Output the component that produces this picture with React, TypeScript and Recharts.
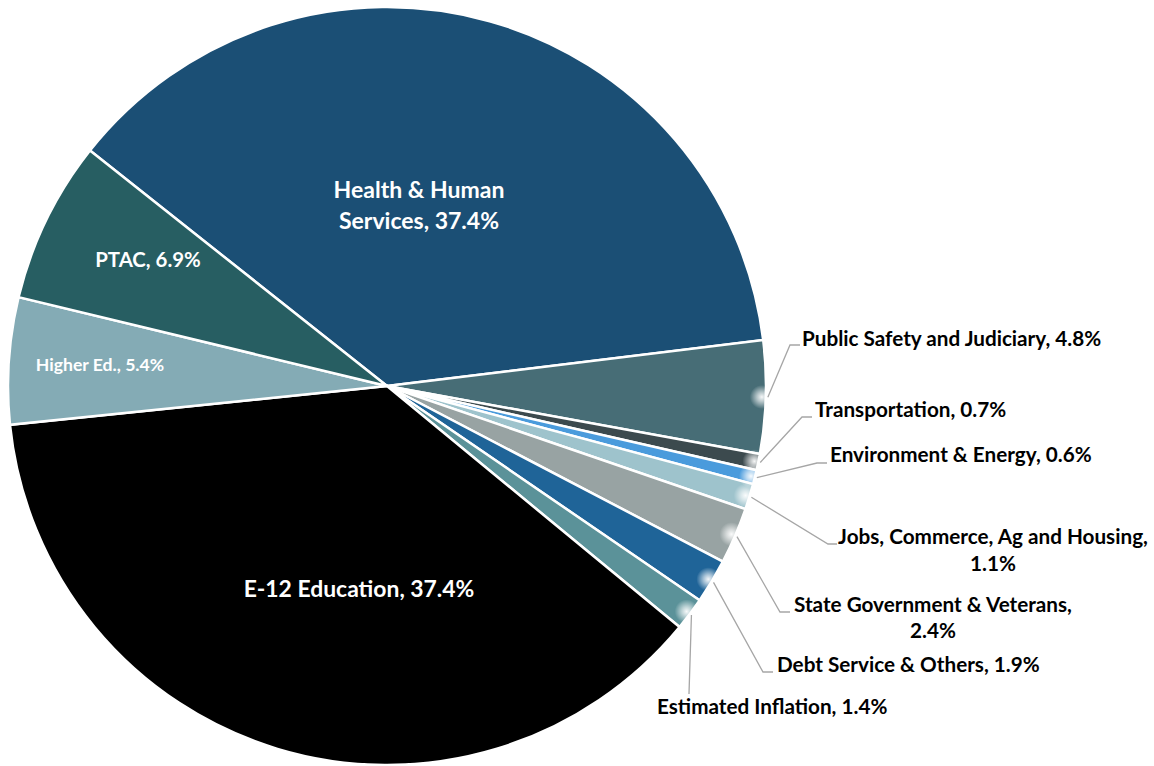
import { PieChart, Pie, Cell } from "recharts"

// budget shares, clockwise from Health & Human Services
const categories = [
  "Health & Human Services",
  "Public Safety and Judiciary",
  "Transportation",
  "Environment & Energy",
  "Jobs, Commerce, Ag and Housing",
  "State Government & Veterans",
  "Debt Service & Others",
  "Estimated Inflation",
  "E-12 Education",
  "Higher Ed.",
  "PTAC",
]
const shares = [37.4, 4.8, 0.7, 0.6, 1.1, 2.4, 1.9, 1.4, 37.4, 5.4, 6.9]
const sliceColors = [
  "#1B4F75",
  "#476D76",
  "#3C4A4E",
  "#4A9BDC",
  "#9EC3CC",
  "#98A3A3",
  "#1F6498",
  "#5B9299",
  "#000000",
  "#84ABB5",
  "#275E62",
]

const data = categories.map((name, i) => ({ name, value: shares[i] }))

const FONT = "Lato, 'Open Sans', sans-serif"
const LEADER = "#A6A6A6"

type LabelSpot = {
  x: number
  y: number
  size: number
  anchor: "start" | "middle"
  fill: string
  wrap?: number // words on the first line
  gap?: number
  leader?: [number, number][]
}

// where Excel placed each data label
const labelSpots: LabelSpot[] = [
  { x: 419, y: 198, size: 23, anchor: "middle", fill: "#fff", wrap: 3, gap: 31 },
  { x: 802, y: 346, size: 20.7, anchor: "start", fill: "#000", leader: [[790, 345], [800, 345]] },
  { x: 815, y: 417, size: 20.7, anchor: "start", fill: "#000", leader: [[802, 417], [812, 417]] },
  { x: 830, y: 462, size: 20.7, anchor: "start", fill: "#000", leader: [[817, 463], [827, 463]] },
  { x: 993, y: 544, size: 20.7, anchor: "middle", fill: "#000", wrap: 5, gap: 27, leader: [[828, 544], [837, 544]] },
  { x: 933, y: 612, size: 20.7, anchor: "middle", fill: "#000", wrap: 4, gap: 26, leader: [[780, 612], [790, 612]] },
  { x: 777, y: 672, size: 20.7, anchor: "start", fill: "#000", leader: [[763, 672], [773, 672]] },
  { x: 657, y: 714, size: 20.7, anchor: "start", fill: "#000", leader: [[689, 694]] },
  { x: 359, y: 597, size: 22.9, anchor: "middle", fill: "#fff" },
  { x: 100, y: 371, size: 17.6, anchor: "middle", fill: "#fff" },
  { x: 148, y: 267, size: 20.4, anchor: "middle", fill: "#fff" },
]

const RAD = Math.PI / 180

const renderLabel = (props: any) => {
  const { cx, cy, midAngle, outerRadius, index, name, value } = props
  const spot = labelSpots[index]
  const full = `${name}, ${value.toFixed(1)}%`
  let lines = [full]
  if (spot.wrap) {
    const words = full.split(" ")
    lines = [words.slice(0, spot.wrap).join(" "), words.slice(spot.wrap).join(" ")]
  }
  let leader = null
  if (spot.leader) {
    const ax = cx + (outerRadius + 2) * Math.cos(-midAngle * RAD)
    const ay = cy + (outerRadius + 2) * Math.sin(-midAngle * RAD)
    const gx = cx + (outerRadius - 4) * Math.cos(-midAngle * RAD)
    const gy = cy + (outerRadius - 4) * Math.sin(-midAngle * RAD)
    const pts = [[ax, ay], ...spot.leader].map((p) => p.join(",")).join(" ")
    leader = (
      <>
        <circle cx={gx} cy={gy} r={12} fill="url(#edgeGlow)" />
        <polyline points={pts} fill="none" stroke={LEADER} strokeWidth={1.3} />
      </>
    )
  }
  return (
    <g key={`lbl-${index}`}>
      {leader}
      <text
        x={spot.x}
        y={spot.y}
        textAnchor={spot.anchor}
        fill={spot.fill}
        fontFamily={FONT}
        fontWeight="bold"
        fontSize={spot.size}
      >
        {lines.map((ln, i) => (
          <tspan key={i} x={spot.x} dy={i === 0 ? 0 : spot.gap}>
            {ln}
          </tspan>
        ))}
      </text>
    </g>
  )
}

export default function App() {
  return (
    <div style={{ position: "absolute", left: 0, top: 0, width: 1154, height: 766, background: "#fff" }}>
      <PieChart width={1154} height={766} margin={{ top: 0, right: 0, bottom: 0, left: 0 }}>
        <defs>
          <radialGradient id="edgeGlow">
            <stop offset="0%" stopColor="#fff" stopOpacity={0.95} />
            <stop offset="40%" stopColor="#fff" stopOpacity={0.6} />
            <stop offset="100%" stopColor="#fff" stopOpacity={0} />
          </radialGradient>
        </defs>
        <Pie
          data={data}
          dataKey="value"
          nameKey="name"
          cx={387}
          cy={386}
          innerRadius={0}
          outerRadius={379}
          startAngle={141.6}
          endAngle={-218.4}
          stroke="#fff"
          strokeWidth={2.5}
          isAnimationActive={false}
          label={renderLabel}
          labelLine={false}
        >
          {data.map((d, i) => (
            <Cell key={`cell-${i}`} fill={sliceColors[i]} />
          ))}
        </Pie>
      </PieChart>
    </div>
  )
}
